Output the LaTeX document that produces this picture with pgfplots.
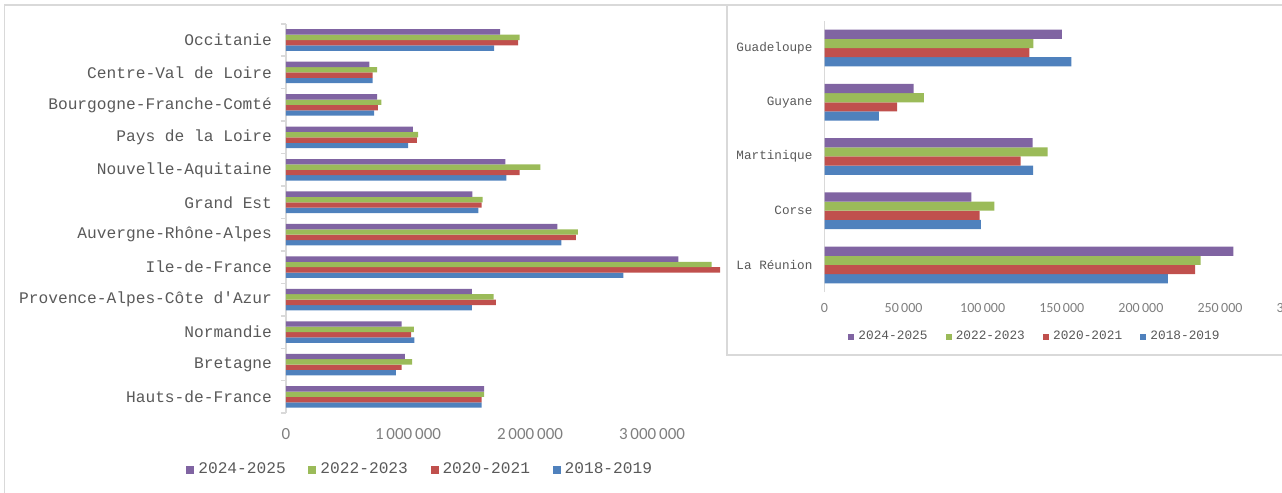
\documentclass[border=0pt]{standalone}
\usepackage{pgfplots}
\pgfplotsset{compat=1.18}
\usepackage{pgfplotstable}
\usepackage{fontspec}
\newfontfamily\mono{Liberation Mono}
\newfontfamily\carlito{Carlito}

\definecolor{s18}{HTML}{4F81BD}
\definecolor{s20}{HTML}{C0504D}
\definecolor{s22}{HTML}{9BBB59}
\definecolor{s24}{HTML}{8064A2}
\definecolor{framec}{HTML}{D9D9D9}
\definecolor{labeltxt}{HTML}{595959}
\definecolor{ticktxt}{HTML}{7F7F7F}

% Metropolitan regions (pos 0 = bottom)
\pgfplotstableread{
pos y1819   y2021   y2223   y2425
0   1604000 1604000 1624000 1624000
1   901000  948000  1033000 975000
2   1053000 1026000 1049000 948000
3   1523000 1721000 1701000 1523000
4   2765000 3558000 3488000 3216000
5   2257000 2377000 2393000 2225000
6   1577000 1604000 1612000 1527000
7   1807000 1915000 2086000 1798000
8   1002000 1072000 1084000 1041000
9   723000  754000  781000  746000
10  711000  711000  746000  684000
11  1706000 1903000 1915000 1755000
}\metro

% Corsica and overseas regions (pos 0 = bottom)
\pgfplotstableread{
pos y1819  y2021  y2223  y2425
0   217000 234200 237700 258400
1   98900  98000  107400 92900
2   131800 124000 141100 131600
3   34300  45900  62800  56400
4   156000 129500 132000 150000
}\outre

\pgfplotsset{
  common/.style={
    scale only axis, anchor=south west, xbar,
    axis y line*=left, axis x line*=bottom,
    x axis line style={draw=none,-},
    y axis line style={framec, line width=0.75pt,-},
    tick align=outside,
    major tick length=0pt,
    tick style={framec, line width=0.75pt},
    scaled x ticks=false,
    legend style={draw=none, fill=none, anchor=center, legend columns=4},
    reverse legend,
  },
}

\begin{document}
\begin{tikzpicture}
\useasboundingbox (0,0) rectangle (641pt,246.5pt);
% outer chart frame
\draw[framec, line width=0.75pt] (2.35pt,-2pt) -- (2.35pt,244pt) -- (645pt,244pt);

\begin{axis}[common,
  at={(143pt,39.9pt)}, width=219.6pt, height=194.7pt,
  bar width=0.166,
  xmin=0, xmax=3600000, ymin=-0.5, ymax=11.5,
  xtick={0,1000000,2000000,3000000},
  xticklabels={0, 1\,000\,000, 2\,000\,000, 3\,000\,000},
  ytick={0,...,11},
  yticklabels={Hauts-de-France, Bretagne, Normandie, Provence-Alpes-Côte d'Azur, Ile-de-France, Auvergne-Rhône-Alpes, Grand Est, Nouvelle-Aquitaine, Pays de la Loire, Bourgogne-Franche-Comté, Centre-Val de Loire, Occitanie},
  minor ytick={-0.5,0.5,...,11.5},
  minor tick length=2.5pt,
  xticklabel style={font=\carlito\fontsize{8.5}{10}\selectfont, text=ticktxt, yshift=-4pt},
  yticklabel style={font=\mono\fontsize{8.1}{9}\selectfont, text=labeltxt, xshift=-3.5pt},
  legend style={at={(0.3079,-0.1458)}, font=\mono\fontsize{8.1}{9}\selectfont, text=labeltxt,
    /tikz/every even column/.append style={column sep=9.3pt}},
  legend image code/.code={\fill[#1] (0pt,-2pt) rectangle (4pt,2pt);},
]
\addplot[fill=s18, draw=none, bar shift=-0.249] table[x=y1819, y=pos]{\metro};
\addlegendentry{2018-2019}
\addplot[fill=s20, draw=none, bar shift=-0.083] table[x=y2021, y=pos]{\metro};
\addlegendentry{2020-2021}
\addplot[fill=s22, draw=none, bar shift=0.083] table[x=y2223, y=pos]{\metro};
\addlegendentry{2022-2023}
\addplot[fill=s24, draw=none, bar shift=0.249] table[x=y2425, y=pos]{\metro};
\addlegendentry{2024-2025}
\end{axis}

% inset panel
\fill[white] (363.5pt,69pt) rectangle (645pt,244pt);
\draw[framec, line width=0.75pt] (645pt,69pt) -- (363.5pt,69pt) -- (363.5pt,244pt) -- (645pt,244pt);

\begin{axis}[common,
  at={(412.25pt,100.45pt)}, width=237.3pt, height=135.6pt,
  bar width=0.17,
  xmin=0, xmax=300000, ymin=-0.5, ymax=4.5,
  xtick={0,50000,100000,150000,200000,250000,300000},
  xticklabels={0, 50\,000, 100\,000, 150\,000, 200\,000, 250\,000, 300\,000},
  ytick={0,...,4},
  yticklabels={La Réunion, Corse, Martinique, Guyane, Guadeloupe},
  xticklabel style={font=\carlito\fontsize{7}{8}\selectfont, text=ticktxt, yshift=-2pt},
  yticklabel style={font=\mono\fontsize{6.33}{7}\selectfont, text=labeltxt, xshift=-2.5pt},
  legend style={at={(0.4456,-0.165)}, font=\mono\fontsize{6.4}{7}\selectfont, text=labeltxt,
    /tikz/every even column/.append style={column sep=7.1pt}},
  legend image code/.code={\fill[#1] (0pt,-1.5pt) rectangle (3pt,1.5pt);},
]
\addplot[fill=s18, draw=none, bar shift=-0.255] table[x=y1819, y=pos]{\outre};
\addlegendentry{2018-2019}
\addplot[fill=s20, draw=none, bar shift=-0.085] table[x=y2021, y=pos]{\outre};
\addlegendentry{2020-2021}
\addplot[fill=s22, draw=none, bar shift=0.085] table[x=y2223, y=pos]{\outre};
\addlegendentry{2022-2023}
\addplot[fill=s24, draw=none, bar shift=0.255] table[x=y2425, y=pos]{\outre};
\addlegendentry{2024-2025}
\end{axis}
\end{tikzpicture}
\end{document}
